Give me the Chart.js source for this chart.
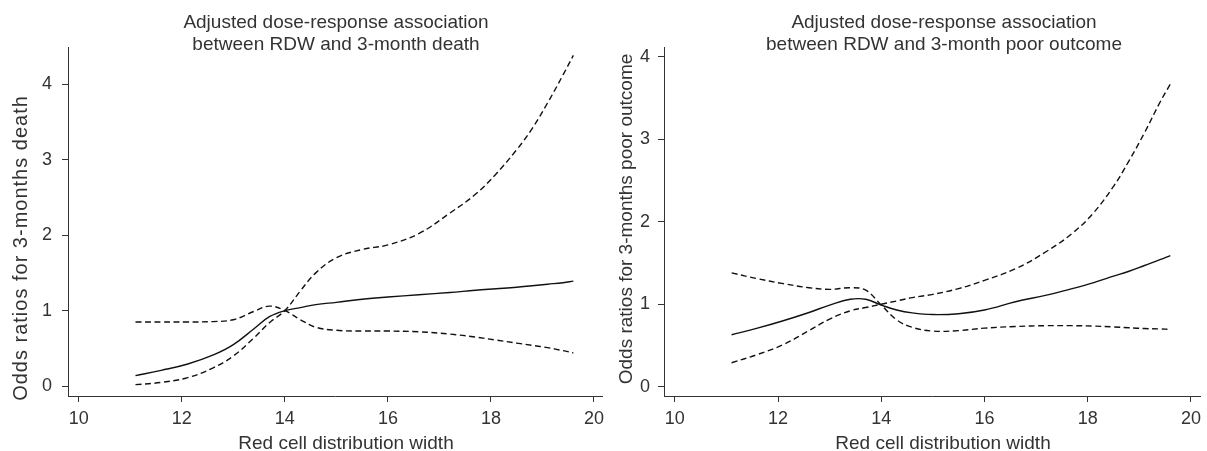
<!DOCTYPE html>
<html>
<head>
<meta charset="utf-8">
<script src="https://cdn.jsdelivr.net/npm/chart.js@4.4.1/dist/chart.umd.min.js"></script>
<style>
  html, body { margin: 0; padding: 0; background: #fff; }
  body { width: 1207px; height: 451px; position: relative; overflow: hidden; }
  canvas { position: absolute; top: 0; }
  #c1 { left: 0; }
  #c2 { left: 600px; }
</style>
</head>
<body>
<canvas id="c1" width="610" height="451"></canvas>
<canvas id="c2" width="607" height="451"></canvas>
<script>
// ---- data ----
const rdw = [11.1, 11.6, 12.1, 12.6, 13.0, 13.4, 13.7, 14.0, 14.3, 14.6, 15.0, 15.5, 16.0, 16.6, 17.2, 17.7, 18.1, 18.5, 18.8, 19.1, 19.4, 19.6];

// Left panel: 3-month death
const deathOR  = [0.14, 0.21, 0.29, 0.41, 0.55, 0.76, 0.92, 1.00, 1.04, 1.08, 1.11, 1.15, 1.18, 1.21, 1.24, 1.27, 1.29, 1.31, 1.33, 1.35, 1.37, 1.39];
const deathCIa = [0.85, 0.85, 0.85, 0.855, 0.88, 0.99, 1.06, 1.00, 0.88, 0.78, 0.74, 0.73, 0.73, 0.72, 0.69, 0.65, 0.61, 0.57, 0.54, 0.51, 0.47, 0.44];
const deathCIb = [0.02, 0.05, 0.11, 0.24, 0.40, 0.64, 0.84, 1.00, 1.26, 1.50, 1.70, 1.81, 1.87, 2.02, 2.29, 2.54, 2.81, 3.13, 3.41, 3.75, 4.12, 4.38];

// Right panel: 3-month poor outcome
const poorOR  = [0.63, 0.71, 0.80, 0.90, 0.99, 1.06, 1.06, 0.99, 0.93, 0.895, 0.875, 0.885, 0.93, 1.03, 1.11, 1.19, 1.26, 1.34, 1.40, 1.47, 1.54, 1.59];
const poorCIa = [1.38, 1.31, 1.25, 1.20, 1.18, 1.20, 1.17, 0.99, 0.81, 0.72, 0.675, 0.68, 0.71, 0.73, 0.74, 0.74, 0.735, 0.725, 0.715, 0.705, 0.70, 0.695];
const poorCIb = [0.29, 0.39, 0.51, 0.68, 0.82, 0.92, 0.96, 1.00, 1.04, 1.08, 1.12, 1.19, 1.29, 1.43, 1.64, 1.86, 2.10, 2.43, 2.74, 3.08, 3.45, 3.67];

const xTicks = [10, 12, 14, 16, 18, 20];
const yTicks = [0, 1, 2, 3, 4];

const titleLeft  = ["Adjusted dose-response association", "between RDW and 3-month death"];
const titleRight = ["Adjusted dose-response association", "between RDW and 3-month poor outcome"];
const xTitle = "Red cell distribution width";
const yTitleLeft  = "Odds ratios for 3-months death";
const yTitleRight = "Odds ratios for 3-months poor outcome";

// ---- rendering ----
const FONT = "'Liberation Sans', Arial, Helvetica, sans-serif";
const TXT = '#333333';
const AX = '#333333';

function pts(ys) { return rdw.map((x, i) => ({ x: x, y: ys[i] })); }

function ds(ys, dashed) {
  return {
    data: pts(ys),
    borderColor: '#111111',
    borderWidth: 1.4,
    borderDash: dashed ? [6, 3.5] : [],
    pointRadius: 0,
    fill: false,
    tension: 0.4
  };
}

const textPlugin = {
  id: 'texts',
  afterDraw(chart, args, opts) {
    const ctx = chart.ctx;
    ctx.save();
    ctx.fillStyle = TXT;
    ctx.textBaseline = 'alphabetic';
    ctx.textAlign = 'center';
    for (const it of opts.items) {
      ctx.font = it.size + 'px ' + FONT;
      ctx.letterSpacing = (it.ls || 0) + 'px';
      ctx.save();
      ctx.translate(it.x, it.y);
      if (it.rot) ctx.rotate(it.rot);
      ctx.fillText(it.text, 0, 0);
      ctx.restore();
    }
    ctx.letterSpacing = '0px';
    ctx.restore();
  }
};

function makeChart(id, cfg) {
  return new Chart(document.getElementById(id), {
    type: 'line',
    data: { datasets: [ds(cfg.or, false), ds(cfg.a, true), ds(cfg.b, true)] },
    options: {
      responsive: false,
      animation: false,
      events: [],
      layout: { padding: { top: 47, right: cfg.padRight, left: 0, bottom: 0 } },
      plugins: {
        legend: { display: false },
        tooltip: { enabled: false },
        title: { display: false },
        texts: { items: cfg.texts }
      },
      scales: {
        x: {
          type: 'linear',
          position: 'bottom',
          min: cfg.xmin, max: cfg.xmax,
          afterBuildTicks: s => { s.ticks = xTicks.map(v => ({ value: v })); },
          afterFit: s => { s.height = 55; },
          grid: { drawOnChartArea: false, drawTicks: true, tickLength: 6, color: AX, lineWidth: 1 },
          border: { display: true, color: AX, width: 1 },
          ticks: { color: TXT, font: { family: FONT, size: 18 }, padding: 6, maxRotation: 0, autoSkip: false }
        },
        y: {
          type: 'linear',
          position: 'left',
          min: cfg.ymin, max: cfg.ymax,
          afterBuildTicks: s => { s.ticks = yTicks.map(v => ({ value: v })); },
          afterFit: s => { s.width = cfg.yw; },
          grid: { drawOnChartArea: false, drawTicks: true, tickLength: 6, color: AX, lineWidth: 1 },
          border: { display: true, color: AX, width: 1 },
          ticks: { color: TXT, font: { family: FONT, size: 18 }, padding: cfg.ypad }
        }
      }
    },
    plugins: [textPlugin]
  });
}

makeChart('c1', {
  or: deathOR, a: deathCIa, b: deathCIb,
  xmin: 9.79, xmax: 20.17, ymin: -0.13, ymax: 4.49,
  yw: 68, ypad: 10, padRight: 3,
  texts: [
    { text: titleLeft[0], x: 336, y: 28, size: 19 },
    { text: titleLeft[1], x: 336, y: 50, size: 19 },
    { text: xTitle, x: 346, y: 449, size: 19 },
    { text: yTitleLeft, x: 27, y: 248, size: 20, ls: 1, rot: -Math.PI / 2 }
  ]
});

makeChart('c2', {
  or: poorOR, a: poorCIa, b: poorCIb,
  xmin: 9.79, xmax: 20.19, ymin: -0.113, ymax: 4.12,
  yw: 64, ypad: 8, padRight: 2,
  texts: [
    { text: titleRight[0], x: 344, y: 28, size: 19 },
    { text: titleRight[1], x: 344, y: 50, size: 19 },
    { text: xTitle, x: 343, y: 449, size: 19 },
    { text: yTitleRight, x: 32, y: 219, size: 19, rot: -Math.PI / 2 }
  ]
});
</script>
</body>
</html>
